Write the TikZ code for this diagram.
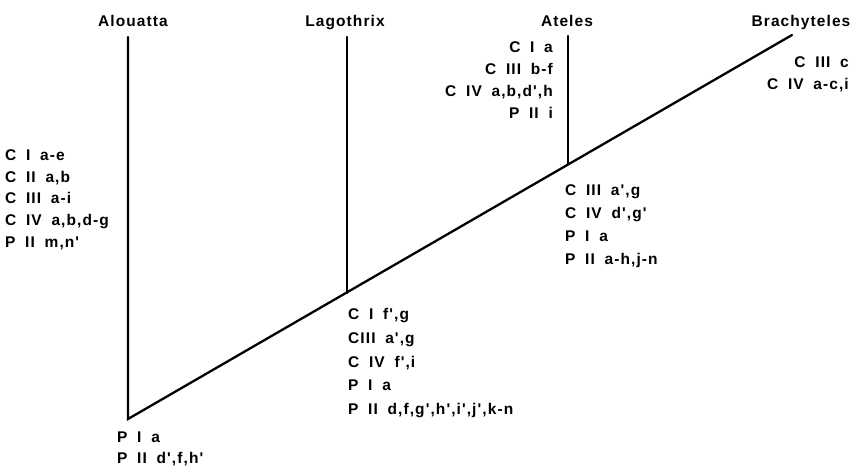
\documentclass[tikz,border=0pt]{standalone}
\usepackage{fontspec}
\newfontfamily\lblfont{Liberation Sans}[LetterSpace=7,WordSpace=1.8]
\begin{document}
\begin{tikzpicture}[x=1pt,y=-1pt,
  lbl/.style={inner sep=0pt, font=\lblfont\bfseries\fontsize{15.5}{17}\selectfont},
  lw/.style={lbl, anchor=base west},
  le/.style={lbl, anchor=base east},
  lt/.style={lbl, anchor=base},
  branch/.style={line width=2.3pt, line cap=round, line join=miter}]
\useasboundingbox (0,0) rectangle (852,472);
% tree
\coordinate (root) at (128,419);
\coordinate (jL) at (347,293);
\coordinate (jA) at (568,164);
\coordinate (tipAl) at (128,37);
\coordinate (tipL) at (347,37);
\coordinate (tipA) at (568,36);
\coordinate (tipB) at (792,35);
\draw[branch] (tipAl) -- (root) -- (tipB);
\draw[branch] (tipL) -- (jL);
\draw[branch] (tipA) -- (jA);
% titles
\node[lt] (tAl) at (133,26) {Alouatta};
\node[lt] (tL) at (345,26) {Lagothrix};
\node[lt] (tA) at (567,26) {Ateles};
\node[lt] (tB) at (801,26) {Brachyteles};
% Alouatta block
\node[lw] (al1) at (5,160) {C I a-e};
\node[lw] (al2) at (5,182) {C II a,b};
\node[lw] (al3) at (5,203) {C III a-i};
\node[lw] (al4) at (5,225) {C IV\ a,b,d-g};
\node[lw] (al5) at (5,247) {P II m,n'};
% root block
\node[lw] (r1) at (117,442) {P I a};
\node[lw] (r2) at (117,463) {P II d',f,h'};
% Lagothrix junction block
\node[lw] (l1) at (348,319) {C I f',g};
\node[lw] (l2) at (348,343) {CIII\ a',g};
\node[lw] (l3) at (348,367) {C IV\ f',i};
\node[lw] (l4) at (348,390) {P I a};
\node[lw] (l5) at (348,414) {P II d,f,g',h',i',j',k-n};
% Ateles junction block
\node[lw] (a1) at (565,195) {C III\ a',g};
\node[lw] (a2) at (565,218) {C IV\ d',g'};
\node[lw] (a3) at (565,241) {P I a};
\node[lw] (a4) at (565,264) {P II\ a-h,j-n};
% Ateles tip block
\node[le] (at1) at (553,52) {C I\ a};
\node[le] (at2) at (553,74) {C III\ b-f};
\node[le] (at3) at (553,96) {C IV a,b,d',h};
\node[le] (at4) at (553,118) {P II i};
% Brachyteles block
\node[le] (b1) at (849,67) {C III c};
\node[le] (b2) at (849,89) {C IV a-c,i};
\end{tikzpicture}
\end{document}
